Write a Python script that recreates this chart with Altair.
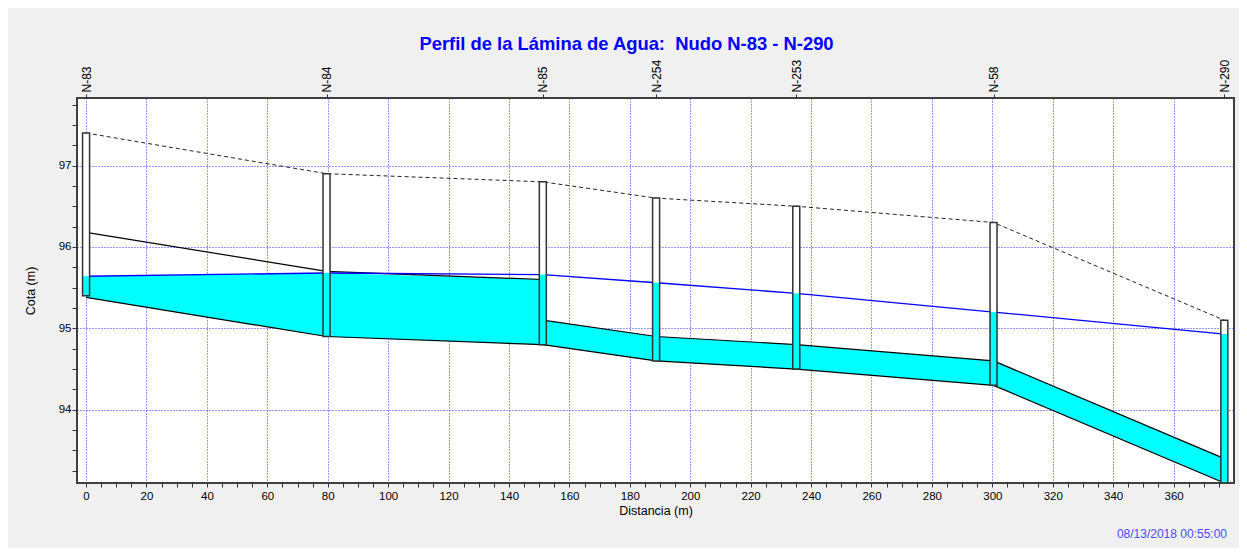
import altair as alt
import pandas as pd

# ---------------- data ----------------
nodes = ["N-83", "N-84", "N-85", "N-254", "N-253", "N-58", "N-290"]
dist = [0.0, 79.6, 151.2, 188.7, 235.1, 300.4, 376.8]
rim = [97.4, 96.9, 96.8, 96.6, 96.5, 96.3, 95.1]
node_invert = [95.4, 94.9, 94.8, 94.6, 94.5, 94.3, 93.1]
water = [95.64, 95.68, 95.66, 95.56, 95.43, 95.20, 94.93]

pipe_up_invert = [95.38, 94.9, 94.8, 94.6, 94.5, 94.3]
pipe_dn_invert = [94.9, 94.8, 94.6, 94.5, 94.3, 93.1]
pipe_diam = [0.8, 0.8, 0.3, 0.3, 0.3, 0.3]

x_ticks = list(range(0, 380, 5))
y_ticks = [93.25 + 0.25 * i for i in range(19)]

title_text = "Perfil de la Lámina de Agua:\u00a0 Nudo N-83 - N-290"
timestamp = "08/13/2018 00:55:00"

# ---------------- tables ----------------
node_df = pd.DataFrame({"name": nodes, "x": dist, "rim": rim,
                        "inv": node_invert, "water": water})

rows = []
lines = []
for i in range(len(pipe_diam)):
    for end, xi, inv, wl in ((0, dist[i], pipe_up_invert[i], water[i]),
                             (1, dist[i + 1], pipe_dn_invert[i], water[i + 1])):
        crown = inv + pipe_diam[i]
        rows.append({"pipe": i, "x": xi, "inv": inv, "top": min(crown, wl)})
        lines.append({"seg": f"c{i}", "x": xi, "y": crown})
        lines.append({"seg": f"i{i}", "x": xi, "y": inv})
pipe_df = pd.DataFrame(rows)
line_df = pd.DataFrame(lines)

# ---------------- scales / axes ----------------
FONT = "Liberation Sans"
xs = alt.Scale(domain=[-3, 380], nice=False, zero=False, padding=0)
ys = alt.Scale(domain=[93.1, 97.83], nice=False, zero=False, padding=0)

y_axis = alt.Axis(
    values=y_ticks,
    labelExpr="datum.value % 1 == 0 ? format(datum.value, 'd') : ''",
    gridOpacity={"condition": {"test": "datum.value % 1 == 0", "value": 1}, "value": 0},
    tickSize=5, labelPadding=1, titlePadding=21,
)
x_bottom_axis = alt.Axis(
    orient="bottom", values=x_ticks,
    labelExpr="datum.value % 20 == 0 ? format(datum.value, 'd') : ''",
    gridOpacity={"condition": {"test": "datum.value % 20 == 0", "value": 1}, "value": 0},
    tickSize=4, labelPadding=3, titlePadding=3,
)
label_expr_top = ("[" + ",".join(f"'{n}'" for n in nodes) + "][indexof(["
                  + ",".join(str(d) for d in dist) + "], datum.value)]")
x_top_axis = alt.Axis(
    orient="top", values=dist, labelExpr=label_expr_top, labelAngle=270,
    labelAlign="left", labelBaseline="middle", grid=False, tickSize=4,
    labelPadding=2, title=None, labelFontSize=12,
)


def X(field, axis=None):
    if axis is None:
        return alt.X(field, type="quantitative", scale=xs, axis=None)
    return alt.X(field, type="quantitative", scale=xs, axis=axis, title="Distancia (m)")


def Y(field):
    return alt.Y(field, type="quantitative", scale=ys, axis=y_axis, title="Cota (m)")


fill = alt.Chart(pipe_df).mark_area(color="#00ffff", opacity=1).encode(
    x=X("x", x_bottom_axis), y=Y("top"), y2="inv:Q", detail="pipe:N")

pipes = alt.Chart(line_df).mark_line(color="#000000", strokeWidth=1.2).encode(
    x=X("x"), y=Y("y"), detail="seg:N")

ground = alt.Chart(node_df).mark_line(color="#222222", strokeDash=[4, 3], strokeWidth=1).encode(
    x=X("x", x_top_axis), y=Y("rim"))

hgl = alt.Chart(node_df).mark_line(color="#0000ff", strokeWidth=1.3).encode(
    x=X("x"), y=Y("water"))

mh_white = alt.Chart(node_df).mark_bar(size=7, color="white").encode(
    x=X("x"), y=Y("inv"), y2="rim:Q")
mh_water = alt.Chart(node_df).mark_bar(size=7, color="#00ffff").encode(
    x=X("x"), y=Y("inv"), y2="water:Q")
mh_edge = alt.Chart(node_df).mark_bar(size=7, fillOpacity=0, stroke="#333333", strokeWidth=1.5).encode(
    x=X("x"), y=Y("inv"), y2="rim:Q")

stamp = alt.Chart(pd.DataFrame({"t": [timestamp]})).mark_text(
    align="right", baseline="alphabetic", color="#4a4aff", fontSize=12, font=FONT
).encode(x=alt.value(1150), y=alt.value(440), text="t:N")

chart = alt.layer(fill, pipes, ground, hgl, mh_white, mh_water, mh_edge, stamp).resolve_axis(
    x="independent"
).properties(
    width=1157, height=385,
    autosize=alt.AutoSizeParams(type="none"),
    padding={"left": 69, "top": 90, "right": 5, "bottom": 65},
    background="#f0f0f0",
    title=alt.TitleParams(title_text, color="#0000ff", fontSize=18.4, fontWeight="bold",
                          font=FONT, anchor="middle", dx=-29, offset=6),
).configure_axis(
    labelFont=FONT, labelFontSize=11.5, labelColor="#000000", tickColor="#333333",
    domain=False, gridColor="#2a2aff", gridDash=[1, 2], gridWidth=1,
    titleFont=FONT, titleFontSize=12.5, titleFontWeight="normal", titleColor="#000000",
).configure_view(stroke="#404040", strokeWidth=2, fill="white")

chart.save("out.html", embed_options={"renderer": "svg", "actions": False})
